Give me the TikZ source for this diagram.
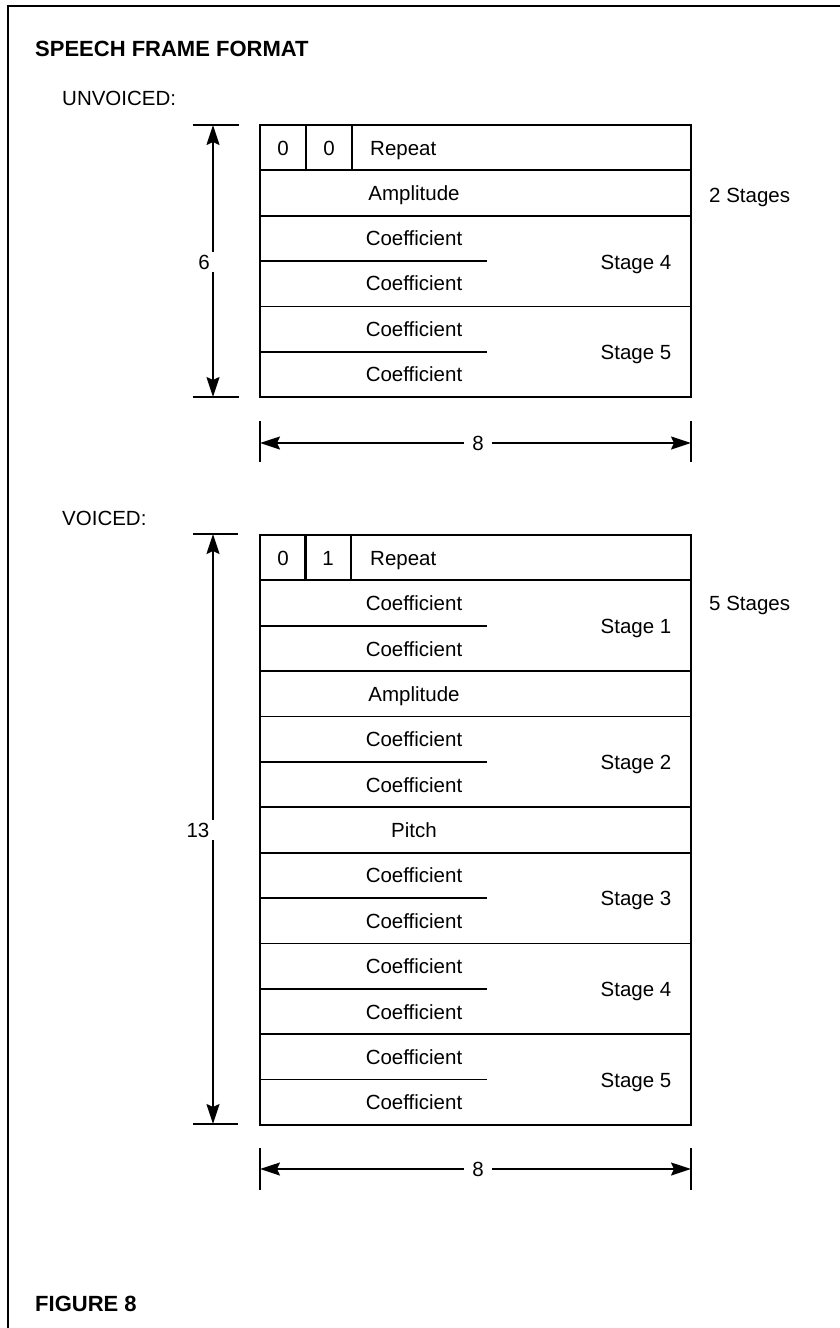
\documentclass[tikz,border=0pt]{standalone}
\usepackage{fontspec}
\setmainfont{Liberation Sans}
\usetikzlibrary{arrows.meta,calc}
\begin{document}
\begin{tikzpicture}[x=1pt,y=-1pt,
  frameline/.style={line width=2.4pt},
  boxline/.style={draw,line width=1.8pt,rectangle,inner sep=0pt,outer sep=0pt,anchor=north west},
  row/.style={boxline,minimum width=431pt},
  cell/.style={boxline,minimum width=46pt,minimum height=45.35pt},
  txt/.style={font=\fontsize{20.5}{21}\selectfont,inner sep=0pt,anchor=base},
  lbl/.style={font=\fontsize{20.5}{21}\selectfont,inner sep=0pt,anchor=base west},
  ttl/.style={font=\bfseries\fontsize{22}{23}\selectfont,inner sep=0pt,anchor=base west},
  divline/.style={line width=1.8pt},
  tick/.style={line width=1.8pt},
  dim/.style={line width=1.6pt,-{Stealth[length=20pt,width=13pt,inset=3pt]}},
  dimlbl/.style={font=\fontsize{20.5}{21}\selectfont,inner sep=3pt}
]
\useasboundingbox (0,0) rectangle (840,1328);
% outer frame (top and left only)
\draw[frameline] (840,6) -- (8,6) -- (8,1328);

\node[ttl] (title) at (35,56) {SPEECH FRAME FORMAT};
\node[ttl] (fig) at (35,1311) {FIGURE 8};

% ================= UNVOICED =================
\node[lbl] (ulab) at (62,105.5) {UNVOICED:};
\node[row,minimum height=45.35pt] (urep) at (260,125) {};
\node[cell] (uc1) at (260,125) {};
\node[cell] (uc2) at (306,125) {};
\node[txt] at (283,155) {0};
\node[txt] at (329,155) {0};
\node[txt,anchor=base west] at (370,155) {Repeat};
\node[row,minimum height=45.35pt] (uamp) at (260,170.35) {};
\node[txt] at (414,200.2) {Amplitude};
\node[row,minimum height=90.7pt] (us4) at (260,215.7) {};
\draw[divline] (us4.west) -- ++(227,0);
\node[txt] at (414,245.5) {Coefficient};
\node[txt] at (414,290.9) {Coefficient};
\node[txt] at (636,269) {Stage 4};
\node[row,minimum height=90.7pt] (us5) at (260,306.4) {};
\draw[divline] (us5.west) -- ++(227,0);
\node[txt] at (414,336.2) {Coefficient};
\node[txt] at (414,381.6) {Coefficient};
\node[txt] at (636,359.7) {Stage 5};
\node[lbl] (u2st) at (709,202.5) {2 Stages};

% vertical dimension (6)
\coordinate (ut1) at (193,125); \coordinate (ut2) at (239,125);
\coordinate (ub1) at (193,397); \coordinate (ub2) at (239,397);
\draw[tick] (ut1) -- (ut2);
\draw[tick] (ub1) -- (ub2);
\coordinate (uax) at (213,125);
\coordinate (uay) at (213,397);
\node[dimlbl] (u6) at (204,262) {6};
\draw[dim] (u6.north -| uax) -- (uax);
\draw[dim] (u6.south -| uay) -- (uay);

% horizontal dimension (8)
\coordinate (ul) at (260,443); \coordinate (ur) at (691,443);
\draw[tick] (260,421) -- (260,462);
\draw[tick] (691,421) -- (691,462);
\node[dimlbl,inner sep=8pt] (u8) at (478,443) {8};
\draw[dim] (u8.west) -- (ul);
\draw[dim] (u8.east) -- (ur);

% ================= VOICED =================
\node[lbl] (vlab) at (62,525.5) {VOICED:};
\node[row,minimum height=45.38pt] (vrep) at (260,535) {};
\node[cell] (vc1) at (260,535) {};
\node[cell] (vc2) at (305,535) {};
\node[txt] at (283,565.2) {0};
\node[txt] at (328,565.2) {1};
\node[txt,anchor=base west] at (370,565.2) {Repeat};

\node[row,minimum height=90.76pt] (vs1) at (260,580.38) {};
\draw[divline] (vs1.west) -- ++(227,0);
\node[txt] at (414,610.6) {Coefficient};
\node[txt] at (414,656) {Coefficient};
\node[txt] at (636,633.3) {Stage 1};

\node[row,minimum height=45.38pt] (vamp) at (260,671.14) {};
\node[txt] at (414,701.3) {Amplitude};

\node[row,minimum height=90.76pt] (vs2) at (260,716.52) {};
\draw[divline] (vs2.west) -- ++(227,0);
\node[txt] at (414,746.7) {Coefficient};
\node[txt] at (414,792.1) {Coefficient};
\node[txt] at (636,769.4) {Stage 2};

\node[row,minimum height=45.38pt] (vpit) at (260,807.28) {};
\node[txt] at (414,837.5) {Pitch};

\node[row,minimum height=90.76pt] (vs3) at (260,852.66) {};
\draw[divline] (vs3.west) -- ++(227,0);
\node[txt] at (414,882.9) {Coefficient};
\node[txt] at (414,928.3) {Coefficient};
\node[txt] at (636,905.6) {Stage 3};

\node[row,minimum height=90.76pt] (vs4) at (260,943.42) {};
\draw[divline] (vs4.west) -- ++(227,0);
\node[txt] at (414,973.6) {Coefficient};
\node[txt] at (414,1019) {Coefficient};
\node[txt] at (636,996.3) {Stage 4};

\node[row,minimum height=90.76pt] (vs5) at (260,1034.18) {};
\draw[divline] (vs5.west) -- ++(227,0);
\node[txt] at (414,1064.4) {Coefficient};
\node[txt] at (414,1109.8) {Coefficient};
\node[txt] at (636,1087.1) {Stage 5};

\node[lbl] (v5st) at (709,610.5) {5 Stages};

% vertical dimension (13)
\draw[tick] (193,534) -- (238,534);
\draw[tick] (193,1124) -- (238,1124);
\coordinate (vax) at (213,534);
\coordinate (vay) at (213,1124);
\node[dimlbl] (v13) at (198,830) {13};
\draw[dim] (v13.north -| vax) -- (vax);
\draw[dim] (v13.south -| vay) -- (vay);

% horizontal dimension (8)
\coordinate (vl) at (260,1169); \coordinate (vr) at (691,1169);
\draw[tick] (260,1148) -- (260,1190);
\draw[tick] (691,1148) -- (691,1190);
\node[dimlbl,inner sep=8pt] (v8) at (478,1169) {8};
\draw[dim] (v8.west) -- (vl);
\draw[dim] (v8.east) -- (vr);
\end{tikzpicture}
\end{document}
